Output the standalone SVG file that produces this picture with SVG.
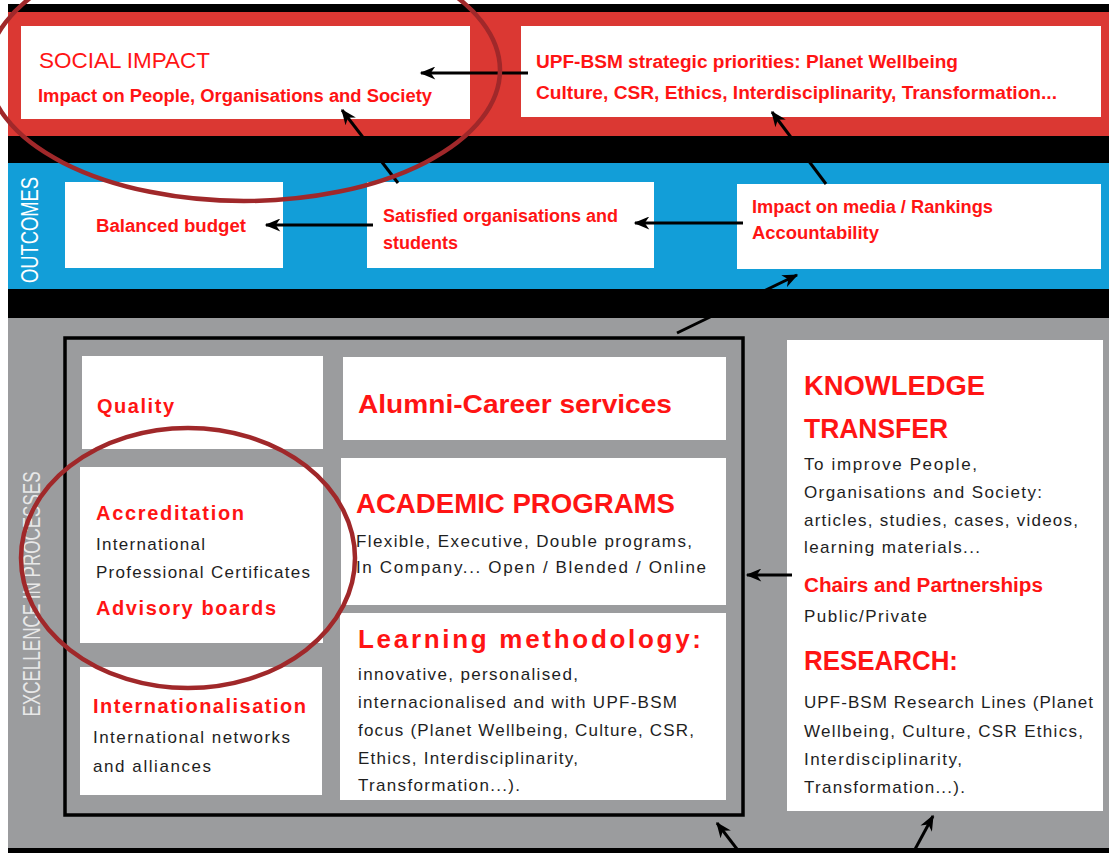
<svg xmlns="http://www.w3.org/2000/svg" width="1109" height="853" viewBox="0 0 1109 853">
  <style>
    text { font-family: "Liberation Sans", Arial, sans-serif; }
    .box { fill: #ffffff; }
    .h { fill: #ff1414; font-weight: bold; }
    .hn { fill: #ff1414; font-weight: normal; }
    .b { fill: #1e1e1e; font-size: 17px; }
    .side { fill: #ffffff; font-size: 23px; }
    .conn { stroke: #000; stroke-width: 3; fill: none; marker-end: url(#ah); }
    .ring { fill: none; stroke: #a0282a; stroke-width: 4.5; }
  </style>
  <defs>
    <marker id="ah" viewBox="0 0 12 10" refX="11" refY="5" markerWidth="17" markerHeight="13" markerUnits="userSpaceOnUse" orient="auto">
      <path d="M0,0 L12,5 L0,10 L3.5,5 z" fill="#000"/>
    </marker>
  </defs>

  <!-- background bands -->
  <g id="bands">
    <rect x="0" y="0" width="1109" height="853" fill="#ffffff"/>
    <rect x="8" y="4" width="1101" height="849" fill="#000000"/>
    <rect x="8" y="12" width="1101" height="124" fill="#db3833"/>
    <rect x="8" y="163" width="1101" height="126" fill="#129ed8"/>
    <rect x="8" y="318" width="1101" height="530" fill="#9b9c9e"/>
    <text class="side" transform="translate(38,230) rotate(-90)" text-anchor="middle" textLength="106" lengthAdjust="spacingAndGlyphs">OUTCOMES</text>
    <text class="side" style="fill:#e8e8e8" transform="translate(40,594) rotate(-90)" text-anchor="middle" textLength="245" lengthAdjust="spacingAndGlyphs">EXCELLENCE IN PROCESSES</text>
    <rect x="65" y="338" width="678" height="477" fill="none" stroke="#000" stroke-width="3.5"/>
  </g>

  <!-- impact row -->
  <g id="social-impact">
    <rect class="box" x="21" y="26" width="449" height="93"/>
    <text class="hn" x="39" y="68" font-size="22" textLength="171" lengthAdjust="spacingAndGlyphs">SOCIAL IMPACT</text>
    <text class="h" x="38" y="102" font-size="18" textLength="394" lengthAdjust="spacingAndGlyphs">Impact on People, Organisations and Society</text>
  </g>
  <g id="strategic-priorities">
    <rect class="box" x="521" y="26" width="580" height="91"/>
    <text class="h" x="536" y="68" font-size="18" textLength="422" lengthAdjust="spacingAndGlyphs">UPF-BSM strategic priorities: Planet Wellbeing</text>
    <text class="h" x="536" y="99" font-size="18" textLength="521" lengthAdjust="spacingAndGlyphs">Culture, CSR, Ethics, Interdisciplinarity, Transformation...</text>
  </g>

  <!-- outcomes row -->
  <g id="balanced-budget">
    <rect class="box" x="65" y="182" width="218" height="86"/>
    <text class="h" x="96" y="232" font-size="18" textLength="150" lengthAdjust="spacingAndGlyphs">Balanced budget</text>
  </g>
  <g id="satisfied">
    <rect class="box" x="367" y="182" width="287" height="86"/>
    <text class="h" x="383" y="222" font-size="18" textLength="235" lengthAdjust="spacingAndGlyphs">Satisfied organisations and</text>
    <text class="h" x="383" y="249" font-size="18" textLength="75" lengthAdjust="spacingAndGlyphs">students</text>
  </g>
  <g id="media-rankings">
    <rect class="box" x="737" y="184" width="364" height="85"/>
    <text class="h" x="752" y="213" font-size="18" textLength="241" lengthAdjust="spacingAndGlyphs">Impact on media / Rankings</text>
    <text class="h" x="752" y="239" font-size="18" textLength="127" lengthAdjust="spacingAndGlyphs">Accountability</text>
  </g>

  <!-- processes -->
  <g id="quality">
    <rect class="box" x="82" y="356" width="241" height="93"/>
    <text class="h" x="97" y="413" font-size="20" textLength="77" lengthAdjust="spacing">Quality</text>
  </g>
  <g id="accreditation">
    <rect class="box" x="80" y="467" width="243" height="176"/>
    <text class="h" x="96" y="520" font-size="20" textLength="148" lengthAdjust="spacing">Accreditation</text>
    <text class="b" x="96" y="550" textLength="109" lengthAdjust="spacing">International</text>
    <text class="b" x="96" y="578" textLength="214" lengthAdjust="spacing">Professional Certificates</text>
    <text class="h" x="96" y="615" font-size="20" textLength="180" lengthAdjust="spacing">Advisory boards</text>
  </g>
  <g id="internationalisation">
    <rect class="box" x="80" y="667" width="242" height="128"/>
    <text class="h" x="93" y="713" font-size="20" textLength="213" lengthAdjust="spacing">Internationalisation</text>
    <text class="b" x="93" y="743" textLength="197" lengthAdjust="spacing">International networks</text>
    <text class="b" x="93" y="772" textLength="118" lengthAdjust="spacing">and alliances</text>
  </g>
  <g id="alumni-career">
    <rect class="box" x="343" y="357" width="383" height="83"/>
    <text class="h" x="358" y="413" font-size="26" textLength="314" lengthAdjust="spacingAndGlyphs">Alumni-Career services</text>
  </g>
  <g id="academic-programs">
    <rect class="box" x="341" y="458" width="385" height="147"/>
    <text class="h" x="356" y="513" font-size="28" textLength="319" lengthAdjust="spacingAndGlyphs">ACADEMIC PROGRAMS</text>
    <text class="b" x="356" y="547" textLength="336" lengthAdjust="spacing">Flexible, Executive, Double programs,</text>
    <text class="b" x="356" y="573" textLength="350" lengthAdjust="spacing">In Company... Open / Blended / Online</text>
  </g>
  <g id="learning-methodology">
    <rect class="box" x="340" y="613" width="386" height="187"/>
    <text class="h" x="358" y="648" font-size="26" textLength="343" lengthAdjust="spacing">Learning methodology:</text>
    <text class="b" x="358" y="680" font-size="16" textLength="220" lengthAdjust="spacing">innovative, personalised,</text>
    <text class="b" x="358" y="708" font-size="16" textLength="319" lengthAdjust="spacing">internacionalised and with UPF-BSM</text>
    <text class="b" x="358" y="736" font-size="16" textLength="336" lengthAdjust="spacing">focus (Planet Wellbeing, Culture, CSR,</text>
    <text class="b" x="358" y="764" font-size="16" textLength="220" lengthAdjust="spacing">Ethics, Interdisciplinarity,</text>
    <text class="b" x="358" y="791" font-size="16" textLength="162" lengthAdjust="spacing">Transformation...).</text>
  </g>
  <g id="knowledge-transfer">
    <rect class="box" x="787" y="340" width="316" height="471"/>
    <text class="h" x="804" y="395" font-size="28" textLength="181" lengthAdjust="spacingAndGlyphs">KNOWLEDGE</text>
    <text class="h" x="804" y="438" font-size="28" textLength="144" lengthAdjust="spacingAndGlyphs">TRANSFER</text>
    <text class="b" x="804" y="470" textLength="173" lengthAdjust="spacing">To improve People,</text>
    <text class="b" x="804" y="498" textLength="238" lengthAdjust="spacing">Organisations and Society:</text>
    <text class="b" x="804" y="526" textLength="274" lengthAdjust="spacing">articles, studies, cases, videos,</text>
    <text class="b" x="804" y="553" textLength="176" lengthAdjust="spacing">learning materials...</text>
    <text class="h" x="804" y="592" font-size="20" textLength="239" lengthAdjust="spacingAndGlyphs">Chairs and Partnerships</text>
    <text class="b" x="804" y="622" textLength="123" lengthAdjust="spacing">Public/Private</text>
    <text class="h" x="804" y="670" font-size="28" textLength="154" lengthAdjust="spacingAndGlyphs">RESEARCH:</text>
    <text class="b" x="804" y="708" textLength="289" lengthAdjust="spacing">UPF-BSM Research Lines (Planet</text>
    <text class="b" x="804" y="737" textLength="279" lengthAdjust="spacing">Wellbeing, Culture, CSR Ethics,</text>
    <text class="b" x="804" y="765" textLength="158" lengthAdjust="spacing">Interdisciplinarity,</text>
    <text class="b" x="804" y="793" textLength="161" lengthAdjust="spacing">Transformation...).</text>
  </g>

  <!-- connectors -->
  <g id="connectors">
    <line class="conn" x1="528" y1="73" x2="421" y2="73"/>
    <line class="conn" x1="398" y1="183" x2="342" y2="110"/>
    <line class="conn" x1="826" y1="184" x2="772" y2="112"/>
    <line class="conn" x1="743" y1="223" x2="635" y2="223"/>
    <line class="conn" x1="373" y1="225" x2="266" y2="225"/>
    <line class="conn" x1="677" y1="333" x2="797" y2="275"/>
    <line class="conn" x1="792" y1="575" x2="747" y2="575"/>
    <line class="conn" x1="740" y1="853" x2="717" y2="823"/>
    <line class="conn" x1="913" y1="853" x2="933" y2="816"/>
  </g>

  <!-- highlight rings -->
  <g id="highlights">
    <ellipse class="ring" cx="244" cy="70" rx="256" ry="131"/>
    <ellipse class="ring" cx="188" cy="558" rx="167" ry="130"/>
  </g>
</svg>
